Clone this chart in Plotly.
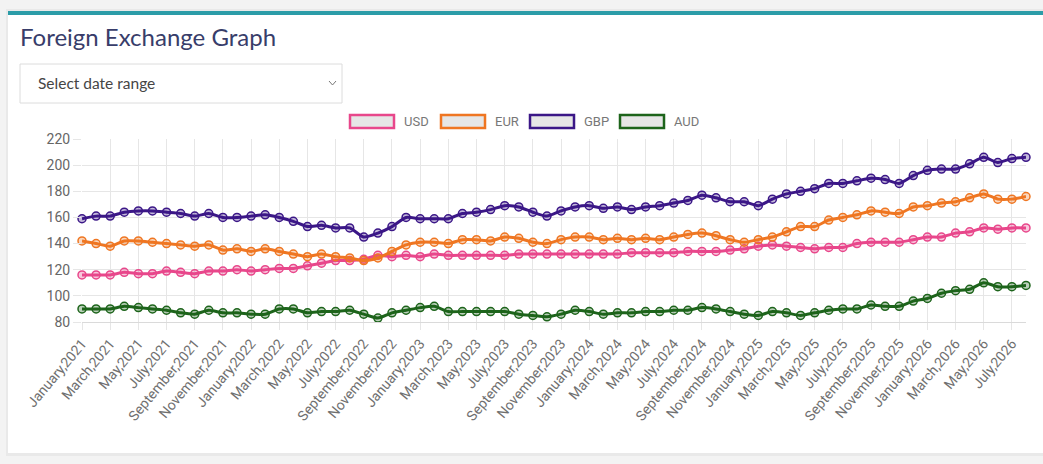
import plotly.graph_objects as go

# monthly labels Jan 2021 .. Aug 2026
month_names = ["January", "February", "March", "April", "May", "June", "July",
               "August", "September", "October", "November", "December"]
months = [f"{m},{y}" for y in range(2021, 2027) for m in month_names][:68]

usd = [116, 116, 116, 118, 117, 117, 119, 118, 117, 119, 119, 120,
       119, 120, 121, 121, 123, 125, 127, 127, 128, 131, 130, 131,
       130, 132, 131, 131, 131, 131, 131, 132, 132, 132, 132, 132,
       132, 132, 132, 133, 133, 133, 133, 134, 134, 134, 135, 136,
       138, 139, 138, 137, 136, 137, 137, 140, 141, 141, 141, 143,
       145, 145, 148, 149, 152, 151, 152, 152]
eur = [142, 140, 138, 142, 142, 141, 140, 139, 138, 139, 135, 136,
       134, 136, 134, 132, 130, 132, 130, 129, 127, 129, 134, 139,
       141, 141, 140, 143, 143, 142, 145, 144, 141, 140, 143, 145,
       145, 143, 144, 143, 144, 143, 145, 147, 148, 146, 143, 141,
       143, 145, 149, 153, 153, 158, 160, 162, 165, 164, 163, 168,
       169, 171, 172, 175, 178, 174, 174, 176]
gbp = [159, 161, 161, 164, 165, 165, 164, 163, 161, 163, 160, 160,
       161, 162, 160, 157, 153, 154, 152, 152, 145, 148, 153, 160,
       159, 159, 159, 163, 164, 166, 169, 168, 164, 161, 165, 168,
       169, 167, 168, 166, 168, 169, 171, 173, 177, 175, 172, 172,
       169, 174, 178, 180, 182, 186, 186, 188, 190, 189, 186, 192,
       196, 197, 197, 201, 206, 202, 205, 206]
aud = [90, 90, 90, 92, 91, 90, 89, 87, 86, 89, 87, 87,
       86, 86, 90, 90, 87, 88, 88, 89, 86, 83, 87, 89,
       91, 92, 88, 88, 88, 88, 88, 86, 85, 84, 86, 89,
       88, 86, 87, 87, 88, 88, 89, 89, 91, 90, 88, 86,
       85, 88, 87, 85, 87, 89, 90, 90, 93, 92, 92, 96,
       98, 102, 104, 105, 110, 107, 107, 108]

series = [("USD", usd, "#e8478b", "rgba(232,71,139,0.3)"),
          ("EUR", eur, "#ef7622", "rgba(239,118,34,0.3)"),
          ("GBP", gbp, "#3b1787", "rgba(59,23,135,0.3)"),
          ("AUD", aud, "#1d641b", "rgba(29,100,27,0.3)")]

W, H = 1043, 464
L, R, T, B = 82, 17, 139, 142
PW, PH = W - L - R, H - T - B


def px(x):
    return (x - L) / PW


def py(y):
    return (H - B - y) / PH


fig = go.Figure()
for name, vals, color, fill in series:
    fig.add_trace(go.Scatter(
        x=months, y=vals, name=name, mode="lines+markers",
        line=dict(color=color, width=3, shape="spline", smoothing=0.6),
        marker=dict(size=8, color=fill, line=dict(color=color, width=1.5)),
        cliponaxis=False, showlegend=False,
    ))

shapes = [
    # card shadow, card, top accent bar
    dict(type="rect", xref="paper", yref="paper", layer="below",
         x0=px(6), x1=px(1050), y0=py(456), y1=py(9),
         fillcolor="#e9e9e9", line=dict(width=0)),
    dict(type="rect", xref="paper", yref="paper", layer="below",
         x0=px(8), x1=px(1050), y0=py(453), y1=py(11),
         fillcolor="white", line=dict(width=0)),
    dict(type="rect", xref="paper", yref="paper", layer="below",
         x0=px(8), x1=px(1050), y0=py(15), y1=py(11),
         fillcolor="#2b9ca8", line=dict(width=0)),
    # date range dropdown
    dict(type="rect", xref="paper", yref="paper", layer="below",
         x0=px(20), x1=px(342), y0=py(103), y1=py(64),
         fillcolor="white", line=dict(color="#dcdcdc", width=1)),
    dict(type="path", xref="paper", yref="paper",
         path=f"M {px(329)} {py(81)} L {px(332.5)} {py(85)} L {px(336)} {py(81)}",
         line=dict(color="#777", width=1)),
]

annotations = [
    dict(text="Foreign Exchange Graph", xref="paper", yref="paper",
         x=px(18), y=py(36), xanchor="left", yanchor="middle", showarrow=False,
         font=dict(family="Lato", size=24, color="#383d6a")),
    dict(text="Select date range", xref="paper", yref="paper",
         x=px(36), y=py(83), xanchor="left", yanchor="middle", showarrow=False,
         font=dict(family="Lato", size=15.5, color="#454545")),
]

# chart.js style legend boxes
legend_x = [350, 441, 530, 620]
for (name, vals, color, fill), lx in zip(series, legend_x):
    shapes.append(dict(type="rect", xref="paper", yref="paper",
                       x0=px(lx), x1=px(lx + 44), y0=py(128), y1=py(115),
                       fillcolor="#e6e6e6", line=dict(color=color, width=2.5)))
    annotations.append(dict(text=name, xref="paper", yref="paper",
                            x=px(lx + 52), y=py(121.5), xanchor="left",
                            yanchor="middle", showarrow=False,
                            font=dict(family="Roboto", size=13, color="#777")))

fig.update_layout(
    width=W, height=H,
    margin=dict(l=L, r=R, t=T, b=B, pad=0),
    paper_bgcolor="#f3f3f3",
    plot_bgcolor="rgba(0,0,0,0)",
    shapes=shapes,
    annotations=annotations,
    xaxis=dict(
        type="category",
        range=[0, len(months) - 1],
        tickmode="array",
        tickvals=months[::2],
        ticktext=months[::2],
        tickangle=-50,
        tickfont=dict(family="Roboto", size=14, color="#707070"),
        showgrid=True, gridcolor="#e6e6e6", gridwidth=1,
        ticks="outside", ticklen=7, tickcolor="#e6e6e6",
        showline=True, linecolor="#dadada", linewidth=1,
        zeroline=False,
    ),
    yaxis=dict(
        range=[80, 220], dtick=20,
        tickfont=dict(family="Roboto", size=14, color="#666"),
        showgrid=True, gridcolor="#e6e6e6", gridwidth=1,
        ticks="outside", ticklen=8, tickcolor="#e6e6e6",
        showline=False, zeroline=False,
    ),
    hovermode="x",
)

fig.write_html("out.html", config={"displayModeBar": False},
               post_script="document.body.style.margin='0';")
